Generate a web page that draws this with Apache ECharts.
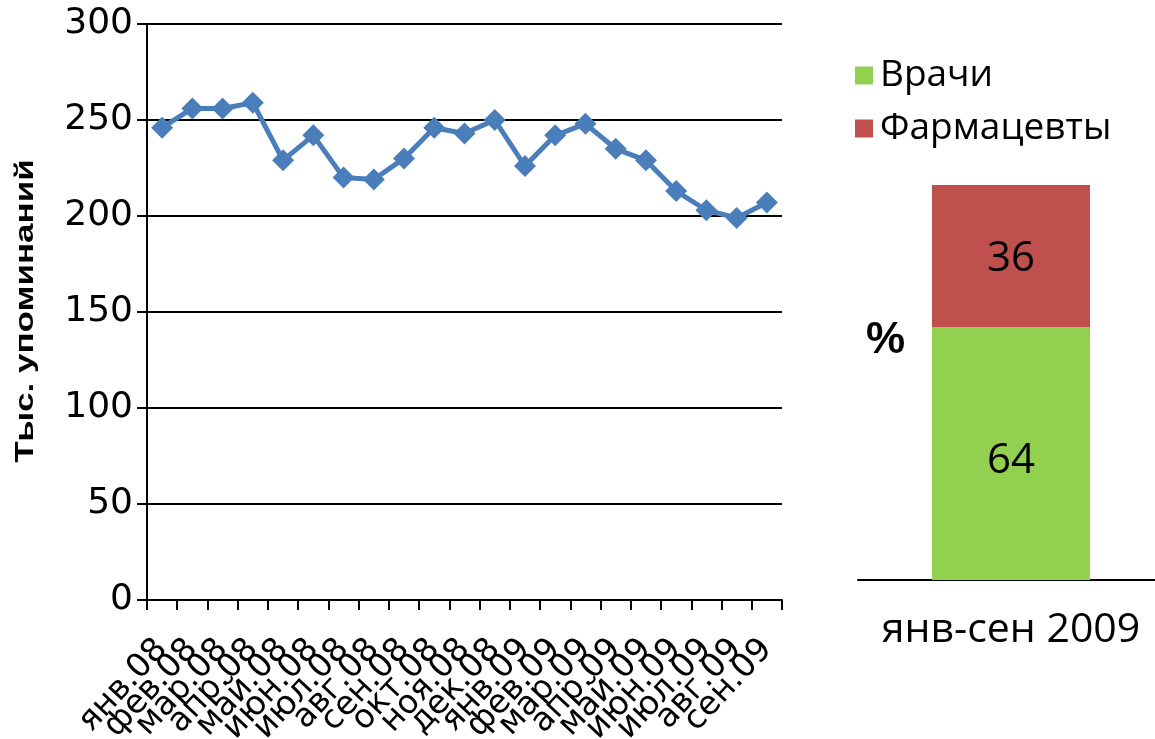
<!DOCTYPE html>
<html><head><meta charset="utf-8">
<script src="https://cdn.jsdelivr.net/npm/echarts@6/dist/echarts.min.js"></script>
<style>html,body{margin:0;padding:0;background:#fff}#c{width:1155px;height:739px}</style>
</head><body><div id="c"></div>
<script>
const months = ['янв.08','фев.08','мар.08','апр.08','май.08','июн.08','июл.08','авг.08','сен.08','окт.08','ноя.08','дек.08','янв.09','фев.09','мар.09','апр.09','май.09','июн.09','июл.09','авг.09','сен.09'];
const mentions = [246,256,256,259,229,242,220,219,230,246,243,250,226,242,248,235,229,213,203,199,207];
const yTicks = [0,50,100,150,200,250,300];
const shareCategory = ['янв-сен 2009'];
const doctors = [64];
const pharmacists = [36];

const chart = echarts.init(document.getElementById('c'));
chart.setOption({
  animation:false,
  legend:{orient:'vertical',left:850,top:52,itemWidth:18,itemHeight:18,itemGap:16,icon:'rect',
    textStyle:{fontSize:37,color:'#000',fontFamily:'Open Sans',padding:[0,0,0,2]},data:['Врачи','Фармацевты']},
  grid:[
    {left:147,top:24,right:373,bottom:139,outerBoundsMode:'none'},
    {left:858,top:185,width:306,bottom:159,outerBoundsMode:'none'}
  ],
  xAxis:[
    {type:'category',gridIndex:0,data:months,boundaryGap:true,
      axisLine:{lineStyle:{color:'#000',width:2}},
      axisTick:{show:true,length:10,lineStyle:{color:'#000',width:2}},
      axisLabel:{rotate:47,fontSize:33,color:'#000',fontFamily:'DejaVu Sans',margin:44,interval:0}},
    {type:'category',gridIndex:1,data:shareCategory,
      axisLine:{lineStyle:{color:'#000',width:2}},axisTick:{show:false},
      axisLabel:{fontSize:41,color:'#000',fontFamily:'Open Sans',margin:30}}
  ],
  yAxis:[
    {type:'value',gridIndex:0,min:0,max:300,interval:50,
      axisLine:{show:true,lineStyle:{color:'#000',width:2}},
      axisTick:{show:true,length:10,lineStyle:{color:'#000',width:2}},
      axisLabel:{fontSize:36,color:'#000',fontFamily:'DejaVu Sans',margin:14,
        formatter:v=>yTicks.includes(v)?String(v):''},
      splitLine:{lineStyle:{color:'#000',width:2}}},
    {type:'value',gridIndex:1,min:0,max:100,show:false}
  ],
  graphic:[
    {type:'text',x:26,y:311,rotation:Math.PI/2,scaleX:1.4,
      style:{text:'Тыс. упоминаний',fontSize:25,fontWeight:'bold',fill:'#000',fontFamily:'Liberation Sans',align:'center',verticalAlign:'middle'}},
    {type:'text',left:866,top:319,style:{text:'%',fontSize:44,fontWeight:'bold',fill:'#000',fontFamily:'Liberation Sans'}}
  ],
  series:[
    {type:'line',xAxisIndex:0,yAxisIndex:0,data:mentions,symbol:'diamond',symbolSize:22,
      lineStyle:{color:'#4a7ebb',width:5},itemStyle:{color:'#4a7ebb'}},
    {name:'Врачи',type:'bar',xAxisIndex:1,yAxisIndex:1,stack:'s',data:doctors,barWidth:158,
      itemStyle:{color:'#92d050'},label:{show:true,position:'inside',fontSize:42,color:'#000',fontFamily:'Open Sans',offset:[0,7]}},
    {name:'Фармацевты',type:'bar',xAxisIndex:1,yAxisIndex:1,stack:'s',data:pharmacists,barWidth:158,
      itemStyle:{color:'#c0504d'},label:{show:true,position:'inside',fontSize:42,color:'#000',fontFamily:'Open Sans',offset:[0,3]}}
  ]
});
</script></body></html>
